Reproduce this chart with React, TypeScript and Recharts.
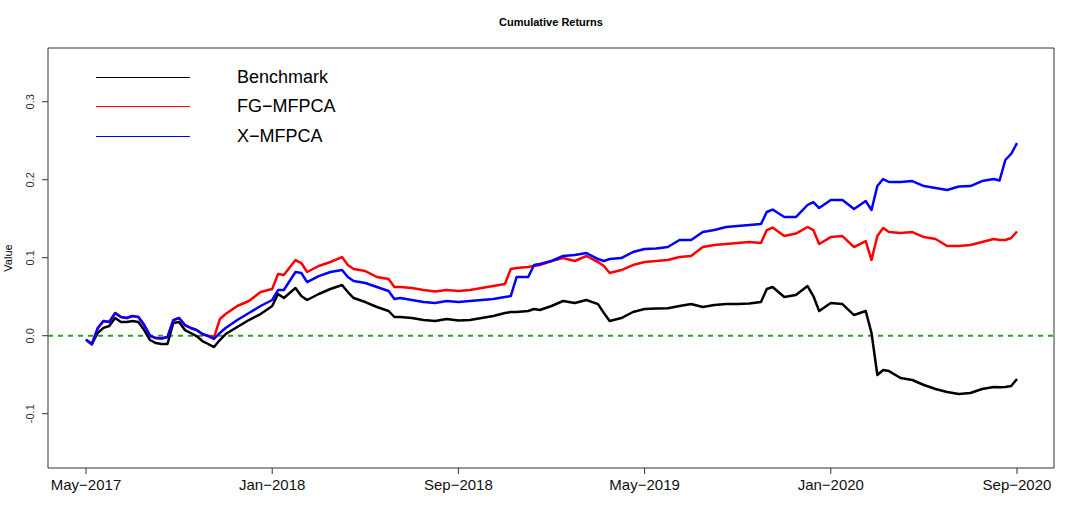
import React from 'react';
import { LineChart, Line, XAxis, YAxis, ReferenceLine, ReferenceArea } from 'recharts';

// months since May-2017
const months = [
  0, 0.25, 0.5, 0.75, 1, 1.25, 1.5, 1.75, 2, 2.25, 2.5, 2.75, 3, 3.25, 3.5, 3.75, 4, 4.25, 4.5, 4.75, 5, 5.25, 5.5, 5.75, 6,
  6.5, 7, 7.5, 8, 8.25, 8.5, 9, 9.25, 9.5, 10, 10.5, 11, 11.25, 11.5, 12, 12.5, 13, 13.25, 13.5,
  14, 14.5, 15, 15.5, 16, 16.5, 17, 17.5, 18, 18.25, 18.5, 19, 19.25, 19.5, 20, 20.5, 21, 21.5, 22, 22.25, 22.5,
  23, 23.5, 24, 24.5, 25, 25.5, 26, 26.5, 27, 27.5, 28, 28.5, 29, 29.25, 29.5, 30, 30.5, 31,
  31.25, 31.5, 32, 32.5, 33, 33.5, 33.75, 34, 34.25, 34.5, 35, 35.5, 36, 36.5, 37, 37.5, 38, 38.5, 39,
  39.25, 39.5, 39.75, 40,
];

const benchmark = [
  -0.005, -0.011, 0.0035, 0.01, 0.0124, 0.0227, 0.0176, 0.0176, 0.0188, 0.0176, 0.0073, -0.0055, -0.0094, -0.0106, -0.0106, 0.0163, 0.0176, 0.0073, 0.0035, -0.0004, -0.0068, -0.0106, -0.0145, -0.0055, 0.0022,
  0.0112, 0.0201, 0.0278, 0.0381, 0.0535, 0.0483, 0.0612, 0.0509, 0.0458, 0.0535, 0.0599, 0.065, 0.056, 0.0483, 0.0432, 0.0368, 0.0317, 0.024, 0.024,
  0.0227, 0.0201, 0.0188, 0.0214, 0.0195, 0.0201, 0.0227, 0.0253, 0.0291, 0.0304, 0.0304, 0.0317, 0.0342, 0.033, 0.0381, 0.0445, 0.0419, 0.0458, 0.0406, 0.0291, 0.0188,
  0.0227, 0.0304, 0.0342, 0.0349, 0.0351, 0.0381, 0.0406, 0.0368, 0.0394, 0.0406, 0.0406, 0.0413, 0.0432, 0.0599, 0.0624, 0.0496, 0.0522, 0.0637,
  0.0509, 0.0317, 0.0419, 0.0406, 0.0265, 0.0317, 0.0035, -0.0504, -0.044, -0.0453, -0.0542, -0.0568, -0.0632, -0.0683, -0.0722, -0.0747, -0.0735, -0.0683, -0.0658,
  -0.0662, -0.0658, -0.0645, -0.0555,
];

const fgMfpca = [
  -0.005, -0.011, 0.0095, 0.019, 0.0176, 0.029, 0.024, 0.0227, 0.0253, 0.024, 0.0137, 0.0, -0.003, -0.0036, -0.0017, 0.02, 0.0227, 0.0137, 0.0099, 0.0073, 0.0022, -0.0004, -0.002, 0.0214, 0.0278,
  0.0381, 0.0445, 0.056, 0.0599, 0.079, 0.0778, 0.097, 0.0932, 0.0817, 0.0894, 0.0945, 0.1009, 0.0907, 0.0855, 0.0829, 0.0753, 0.0727, 0.0624, 0.0624,
  0.0612, 0.0586, 0.0567, 0.0586, 0.0573, 0.0586, 0.0612, 0.0637, 0.0663, 0.0855, 0.0868, 0.0881, 0.0894, 0.0906, 0.0958, 0.0996, 0.0958, 0.1022, 0.0945, 0.0894, 0.0804,
  0.0842, 0.0906, 0.0945, 0.0958, 0.097, 0.1009, 0.1022, 0.1137, 0.1163, 0.1176, 0.1188, 0.1201, 0.1188, 0.1355, 0.1387, 0.1278, 0.131, 0.1394,
  0.1355, 0.1176, 0.1265, 0.1278, 0.1137, 0.1214, 0.097, 0.1278, 0.1381, 0.1329, 0.1317, 0.1329, 0.1265, 0.124, 0.115, 0.115, 0.1163, 0.1201, 0.124,
  0.1227, 0.1227, 0.1253, 0.1336,
];

const xMfpca = [
  -0.005, -0.011, 0.0095, 0.019, 0.0176, 0.029, 0.024, 0.0227, 0.0253, 0.024, 0.0137, 0.0, -0.003, -0.0036, -0.0017, 0.02, 0.0227, 0.0137, 0.0099, 0.0073, 0.0022, -0.0004, -0.0042, 0.0035, 0.0099,
  0.0201, 0.0291, 0.0381, 0.0458, 0.0586, 0.0586, 0.0817, 0.0804, 0.0688, 0.0765, 0.0817, 0.0842, 0.0752, 0.0701, 0.0676, 0.0624, 0.0573, 0.047, 0.0483,
  0.0458, 0.0432, 0.0419, 0.0445, 0.0432, 0.0445, 0.0458, 0.047, 0.0496, 0.0509, 0.0752, 0.0752, 0.0906, 0.0919, 0.0958, 0.1022, 0.1035, 0.106, 0.0983, 0.0958, 0.0983,
  0.0996, 0.1073, 0.1112, 0.1118, 0.1137, 0.1227, 0.1227, 0.133, 0.1355, 0.1394, 0.1406, 0.1419, 0.1432, 0.1586, 0.1618, 0.1522, 0.1522, 0.1676,
  0.1714, 0.1637, 0.174, 0.174, 0.1624, 0.1727, 0.1612, 0.1919, 0.2009, 0.1971, 0.1971, 0.1983, 0.1919, 0.1894, 0.1868, 0.1913, 0.1919, 0.1983, 0.2009,
  0.199, 0.2253, 0.233, 0.247,
];

const xTicks = [0, 8, 16, 24, 32, 40];
const xTickLabels = ['May\u22122017', 'Jan\u22122018', 'Sep\u22122018', 'May\u22122019', 'Jan\u22122020', 'Sep\u22122020'];
const yTicks = [-0.1, 0, 0.1, 0.2, 0.3];

const series = [
  { key: 'benchmark', name: 'Benchmark', color: '#000000' },
  { key: 'fg', name: 'FG\u2212MFPCA', color: '#ff0000' },
  { key: 'x', name: 'X\u2212MFPCA', color: '#0000ff' },
];

const data = months.map((m, i) => ({
  t: m,
  benchmark: benchmark[i],
  fg: fgMfpca[i],
  x: xMfpca[i],
}));

const FONT = '"Liberation Sans", Arial, Helvetica, sans-serif';
const X_DOMAIN: [number, number] = [-1.633, 41.59];
const Y_DOMAIN: [number, number] = [-0.1696, 0.3689];

const YTick: React.FC<any> = ({ x, y, payload }) => (
  <text
    x={x - 7.5}
    y={y}
    transform={`rotate(-90, ${x - 7.5}, ${y})`}
    textAnchor="middle"
    fontSize={11}
    fill="#333"
    fontFamily={FONT}
  >
    {Number(payload.value).toFixed(1)}
  </text>
);

export default function App() {
  return (
    <div style={{ position: 'absolute', left: 0, top: 0, width: 1079, height: 529, background: '#fff', fontFamily: FONT }}>
      <div style={{ position: 'absolute', left: 0, width: 1102, top: 15, textAlign: 'center', fontSize: 11, fontWeight: 'bold', lineHeight: '14px', color: '#000' }}>
        Cumulative Returns
      </div>
      <div style={{ position: 'absolute', left: -22, top: 251, width: 60, textAlign: 'center', fontSize: 11, lineHeight: '14px', color: '#000', transform: 'rotate(-90deg)' }}>
        Value
      </div>
      <LineChart width={1079} height={529} data={data} margin={{ top: 48, right: 25, bottom: 31, left: 0 }}>
        <XAxis
          dataKey="t"
          type="number"
          domain={X_DOMAIN}
          ticks={xTicks}
          allowDataOverflow
          axisLine={false}
          tickLine={{ stroke: '#333' }}
          tickSize={6}
          tickMargin={5}
          height={30}
          tick={{ fontSize: 15, fill: '#111', fontFamily: FONT }}
          tickFormatter={(v: number) => xTickLabels[xTicks.indexOf(v)] ?? ''}
        />
        <YAxis
          type="number"
          domain={Y_DOMAIN}
          ticks={yTicks}
          allowDataOverflow
          axisLine={false}
          tickLine={{ stroke: '#333' }}
          tickSize={6}
          tickMargin={0}
          width={48}
          tick={<YTick />}
        />
        <ReferenceArea x1={X_DOMAIN[0]} x2={X_DOMAIN[1]} y1={Y_DOMAIN[0]} y2={Y_DOMAIN[1]} fill="none" stroke="#333" strokeWidth={1} />
        <ReferenceLine y={0} stroke="#2e9e2e" strokeWidth={2} strokeDasharray="5 5" />
        {series.map((s) => (
          <Line
            key={s.key}
            type="linear"
            dataKey={s.key}
            stroke={s.color}
            strokeWidth={2.5}
            dot={false}
            isAnimationActive={false}
            strokeLinejoin="round"
          />
        ))}
      </LineChart>
      <div style={{ position: 'absolute', left: 96, top: 63 }}>
        {series.map((s) => (
          <div key={s.key} style={{ display: 'flex', alignItems: 'center', height: 29.3 }}>
            <div style={{ width: 94, height: 0, borderTop: `1.5px solid ${s.color}` }} />
            <div style={{ marginLeft: 47, fontSize: 18, lineHeight: '29px', color: '#000' }}>{s.name}</div>
          </div>
        ))}
      </div>
    </div>
  );
}
